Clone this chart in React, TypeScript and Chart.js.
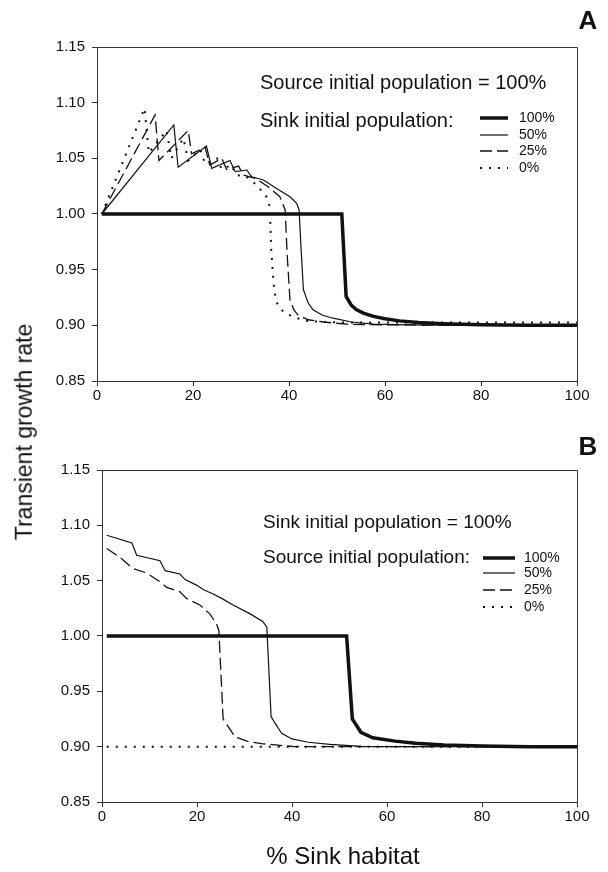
import React, { useEffect, useRef } from 'react';
import { Chart, registerables } from 'chart.js';

Chart.register(...registerables);

const FONT = "'Liberation Sans', Arial, Helvetica, sans-serif";

// ---------- axes ----------
const xTickValues = [0, 20, 40, 60, 80, 100];
const yTickValues = [0.85, 0.9, 0.95, 1.0, 1.05, 1.1, 1.15];
const seriesLabels = ['100%', '50%', '25%', '0%'];

// ---------- Panel A : source initial population = 100% ----------
const aSink100X = [1, 51, 51.9, 53, 54.1, 55.5, 57.6, 60, 63, 67, 72, 80, 90, 100];
const aSink100Y = [1.0, 1.0, 0.926, 0.918, 0.914, 0.911, 0.908, 0.906, 0.904, 0.9025, 0.9015, 0.9005, 0.9, 0.9];

const aSink50X = [1, 16, 16.9, 22.8, 23.9, 27.7, 28.8, 31.2, 32.2, 34.7, 37.4, 40.2, 41.6, 42.1, 42.5, 43, 44, 45, 47, 49.2, 53, 57.6, 65, 80, 100];
const aSink50Y = [1.0, 1.08, 1.042, 1.061, 1.041, 1.048, 1.038, 1.0395, 1.0335, 1.0305, 1.023, 1.0155, 1.0096, 1.0036, 0.97, 0.932, 0.92, 0.914, 0.909, 0.9064, 0.903, 0.901, 0.9005, 0.9, 0.9];

const aSink25X = [1, 12.1, 12.9, 19, 19.7, 22.5, 23.5, 26, 27, 29.5, 30.5, 33, 35.5, 38.1, 39.2, 39.6, 40.2, 41, 41.9, 44, 47.1, 52, 60, 80, 100];
const aSink25Y = [1.0, 1.089, 1.048, 1.075, 1.054, 1.06, 1.044, 1.05, 1.04, 1.043, 1.035, 1.032, 1.025, 1.0155, 1.0036, 0.965, 0.923, 0.914, 0.909, 0.905, 0.903, 0.901, 0.9005, 0.9, 0.9];

const aSink0X = [1, 9.9, 10.8, 14.5, 15.5, 18, 19, 21.5, 22.5, 25, 26, 28, 29, 31, 33.3, 35.3, 36, 36.3, 36.9, 37.4, 38.2, 39.2, 41.3, 43.7, 47, 52, 60, 100];
const aSink0Y = [1.0, 1.095, 1.055, 1.075, 1.05, 1.068, 1.048, 1.058, 1.045, 1.05, 1.04, 1.044, 1.035, 1.034, 1.026, 1.0155, 1.0066, 0.968, 0.932, 0.921, 0.915, 0.911, 0.907, 0.904, 0.903, 0.9025, 0.9025, 0.9025];

// ---------- Panel B : sink initial population = 100% ----------
const bSource100X = [1, 51.5, 52.7, 54.5, 57, 61.7, 66, 72, 80, 90, 100];
const bSource100Y = [1.0, 1.0, 0.925, 0.913, 0.908, 0.905, 0.903, 0.9015, 0.9005, 0.9, 0.9];

const bSource50X = [1, 6.3, 7.3, 12.2, 13.3, 16.4, 17.5, 19.9, 21.3, 23.4, 25.2, 27.6, 31.2, 33.9, 34.7, 35.6, 37.8, 40, 43.4, 48, 54.7, 65, 80, 100];
const bSource50Y = [1.091, 1.084, 1.073, 1.068, 1.059, 1.056, 1.051, 1.046, 1.042, 1.038, 1.034, 1.028, 1.02, 1.013, 1.008, 0.927, 0.912, 0.907, 0.904, 0.902, 0.9003, 0.9, 0.9, 0.9];

const bSource25X = [1, 3.8, 6.5, 9.4, 12.2, 13.6, 16.4, 17.8, 20.6, 22.7, 24.1, 24.6, 25.5, 28, 30.5, 33.6, 40.6, 60, 100];
const bSource25Y = [1.079, 1.071, 1.061, 1.057, 1.049, 1.044, 1.04, 1.034, 1.028, 1.02, 1.011, 1.005, 0.925, 0.909, 0.905, 0.9027, 0.9, 0.9, 0.9];

const bSource0X = [1, 100];
const bSource0Y = [0.9, 0.9];

// ---------- styles ----------
const lineStyles = [
  { borderWidth: 3.5, borderDash: [] as number[] },
  { borderWidth: 1.2, borderDash: [] as number[] },
  { borderWidth: 1.3, borderDash: [12, 5] },
  { borderWidth: 2, borderDash: [2, 7] },
];

const toPoints = (xs: number[], ys: number[]) => xs.map((x, i) => ({ x, y: ys[i] }));

const frameBox = {
  id: 'frameBox',
  afterDatasetsDraw(chart: any) {
    const { left, right, top, bottom } = chart.chartArea;
    const ctx = chart.ctx;
    ctx.save();
    ctx.strokeStyle = '#333';
    ctx.lineWidth = 1;
    ctx.setLineDash([]);
    ctx.beginPath();
    ctx.moveTo(left, top + 0.5);
    ctx.lineTo(right + 0.5, top + 0.5);
    ctx.lineTo(right + 0.5, bottom);
    ctx.stroke();
    ctx.restore();
  },
};

const panelLegend = {
  id: 'panelLegend',
  afterDraw(chart: any, _args: any, opts: any) {
    if (!opts || !opts.titles) return;
    const ctx = chart.ctx;
    ctx.save();
    ctx.fillStyle = '#111';
    ctx.textBaseline = 'middle';
    ctx.textAlign = 'left';
    ctx.font = `${opts.titleSize}px ${FONT}`;
    opts.titles.forEach((t: any) => ctx.fillText(t.text, t.x, t.y));
    ctx.font = `14px ${FONT}`;
    chart.data.datasets.forEach((ds: any, i: number) => {
      const y = opts.rowYs[i];
      ctx.strokeStyle = '#111';
      ctx.lineWidth = ds.borderWidth;
      ctx.setLineDash(ds.borderDash || []);
      ctx.beginPath();
      ctx.moveTo(opts.lineX0, y);
      ctx.lineTo(opts.lineX1, y);
      ctx.stroke();
      ctx.setLineDash([]);
      ctx.fillText(ds.label, opts.textX, y);
    });
    ctx.restore();
  },
};

function buildConfig(series: { x: number[]; y: number[] }[], padTop: number, padBottom: number, yAxisWidth: number, legendOpts: any) {
  return {
    type: 'line' as const,
    data: {
      datasets: series.map((s, i) => ({
        label: seriesLabels[i],
        data: toPoints(s.x, s.y),
        borderColor: '#111',
        borderWidth: lineStyles[i].borderWidth,
        borderDash: lineStyles[i].borderDash,
        pointRadius: 0,
        tension: 0,
        fill: false,
      })),
    },
    options: {
      responsive: false,
      animation: false as const,
      events: [] as any[],
      layout: { padding: { left: 0, right: 31, top: padTop, bottom: padBottom } },
      plugins: {
        legend: { display: false },
        tooltip: { enabled: false },
        panelLegend: legendOpts,
      },
      scales: {
        x: {
          type: 'linear' as const,
          min: 0,
          max: 100,
          afterBuildTicks: (s: any) => {
            s.ticks = xTickValues.map((v) => ({ value: v }));
          },
          afterFit: (s: any) => {
            s.height = 30;
          },
          grid: { drawOnChartArea: false, drawTicks: true, tickLength: 5, color: '#333' },
          border: { display: true, color: '#333', width: 1 },
          ticks: { font: { size: 15, family: FONT }, color: '#111', padding: 1, maxRotation: 0, autoSkip: false },
        },
        y: {
          type: 'linear' as const,
          min: 0.85,
          max: 1.15,
          afterBuildTicks: (s: any) => {
            s.ticks = yTickValues.map((v) => ({ value: v }));
          },
          afterFit: (s: any) => {
            s.width = yAxisWidth;
          },
          grid: { drawOnChartArea: false, drawTicks: true, tickLength: 5, color: '#333' },
          border: { display: true, color: '#333', width: 1 },
          ticks: {
            font: { size: 15, family: FONT },
            color: '#111',
            padding: 7,
            autoSkip: false,
            callback: (v: any) => Number(v).toFixed(2),
          },
        },
      },
    },
    plugins: [frameBox, panelLegend],
  };
}

export default function App() {
  const refA = useRef<HTMLCanvasElement | null>(null);
  const refB = useRef<HTMLCanvasElement | null>(null);

  useEffect(() => {
    const seriesA = [
      { x: aSink100X, y: aSink100Y },
      { x: aSink50X, y: aSink50Y },
      { x: aSink25X, y: aSink25Y },
      { x: aSink0X, y: aSink0Y },
    ];
    const seriesB = [
      { x: bSource100X, y: bSource100Y },
      { x: bSource50X, y: bSource50Y },
      { x: bSource25X, y: bSource25Y },
      { x: bSource0X, y: bSource0Y },
    ];
    const chartA = new Chart(
      refA.current as HTMLCanvasElement,
      buildConfig(seriesA, 47, 430 - 381 - 30, 97, {
        titleSize: 20,
        titles: [
          { text: 'Source initial population = 100%', x: 260, y: 83 },
          { text: 'Sink initial population:', x: 260, y: 121 },
        ],
        rowYs: [118, 135, 151, 168],
        lineX0: 480,
        lineX1: 508,
        textX: 519,
      }) as any
    );
    const chartB = new Chart(
      refB.current as HTMLCanvasElement,
      buildConfig(seriesB, 40, 442 - 372 - 30, 102, {
        titleSize: 19,
        titles: [
          { text: 'Sink initial population = 100%', x: 263, y: 93 },
          { text: 'Source initial population:', x: 263, y: 128 },
        ],
        rowYs: [128, 143, 160, 177],
        lineX0: 483,
        lineX1: 515,
        textX: 524,
      }) as any
    );
    return () => {
      chartA.destroy();
      chartB.destroy();
    };
  }, []);

  return (
    <div style={{ position: 'absolute', left: 0, top: 0, width: 608, height: 872, background: '#fff', fontFamily: FONT, color: '#111', overflow: 'hidden' }}>
      <canvas ref={refA} width={608} height={430} style={{ position: 'absolute', left: 0, top: 0, width: 608, height: 430 }} />
      <canvas ref={refB} width={608} height={442} style={{ position: 'absolute', left: 0, top: 430, width: 608, height: 442 }} />
      <div style={{ position: 'absolute', left: 588, top: 20, transform: 'translate(-50%, -50%)', fontSize: 26, fontWeight: 'bold', lineHeight: 1 }}>A</div>
      <div style={{ position: 'absolute', left: 588, top: 446, transform: 'translate(-50%, -50%)', fontSize: 26, fontWeight: 'bold', lineHeight: 1 }}>B</div>
      <div style={{ position: 'absolute', left: 24, top: 432, transform: 'translate(-50%, -50%) rotate(-90deg)', fontSize: 23, whiteSpace: 'nowrap', lineHeight: 1.15 }}>Transient growth rate</div>
      <div style={{ position: 'absolute', left: 343, top: 856, transform: 'translate(-50%, -50%)', fontSize: 24, whiteSpace: 'nowrap', lineHeight: 1.15 }}>% Sink habitat</div>
    </div>
  );
}
